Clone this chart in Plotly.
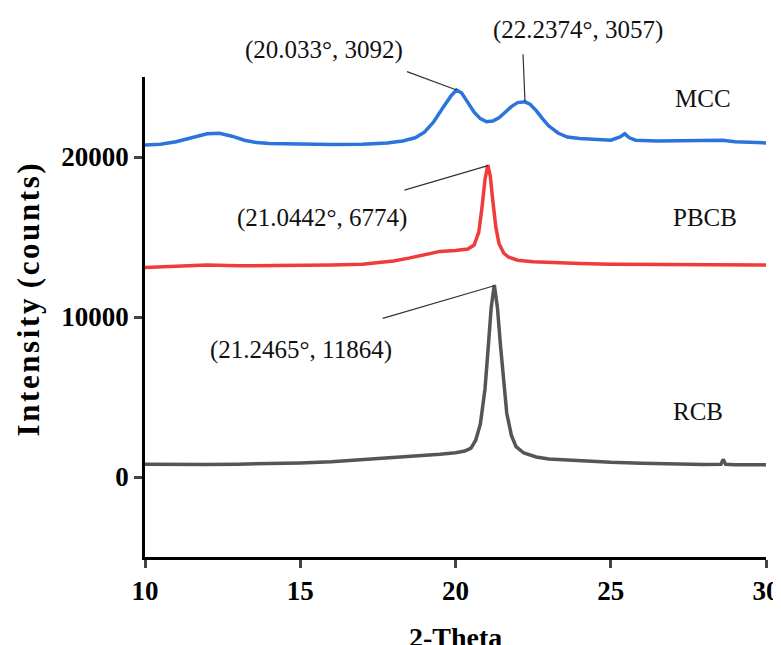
import numpy as np
import plotly.graph_objects as go

# ---- data ----
MCC_x = [10.0, 10.5, 11.0, 11.5, 12.0, 12.4, 12.8, 13.2, 13.6, 14.0, 15.0, 16.0, 17.0, 17.8, 18.3, 18.7,
         19.0, 19.3, 19.6, 19.85, 20.03, 20.2, 20.4, 20.6, 20.8, 21.0, 21.2, 21.4, 21.6, 21.8, 22.0,
         22.24, 22.4, 22.6, 22.8, 23.0, 23.3, 23.6, 24.0, 24.5, 25.0, 25.3, 25.45, 25.6, 25.8, 26.5,
         27.0, 28.0, 28.6, 29.0, 29.5, 30.0]
MCC_y = [20750, 20800, 20950, 21200, 21450, 21480, 21300, 21050, 20900, 20850, 20800, 20780, 20800,
         20880, 21000, 21200, 21550, 22200, 23100, 23800, 24190, 24000, 23400, 22800, 22400, 22200,
         22250, 22450, 22800, 23150, 23400, 23450, 23300, 22900, 22400, 21950, 21500, 21250, 21150,
         21100, 21050, 21250, 21450, 21200, 21050, 21000, 21000, 21000, 21050, 20950, 20900, 20880]

PBCB_x = [10.0, 10.5, 11.0, 11.5, 12.0, 13.0, 14.0, 15.0, 16.0, 17.0, 17.5, 18.0, 18.5, 19.0, 19.5,
          20.0, 20.4, 20.6, 20.75, 20.85, 20.95, 21.04, 21.12, 21.2, 21.3, 21.4, 21.55, 21.7, 22.0,
          22.5, 23.0, 24.0, 25.0, 26.0, 27.0, 28.0, 29.0, 30.0]
PBCB_y = [13100, 13150, 13200, 13220, 13250, 13200, 13200, 13220, 13250, 13300, 13380, 13500, 13680,
          13900, 14100, 14150, 14250, 14500, 15300, 16800, 18600, 19500, 18800, 17300, 15600, 14600,
          14000, 13750, 13550, 13450, 13400, 13350, 13300, 13300, 13280, 13280, 13270, 13250]

RCB_x = [10.0, 11.0, 12.0, 13.0, 14.0, 15.0, 16.0, 17.0, 18.0, 19.0, 19.5, 20.0, 20.3, 20.5, 20.65,
         20.8, 20.95, 21.05, 21.15, 21.25, 21.35, 21.45, 21.55, 21.65, 21.8, 21.95, 22.2, 22.6, 23.0,
         24.0, 25.0, 26.0, 27.0, 28.0, 28.55, 28.62, 28.7, 29.0, 30.0]
RCB_y = [800, 780, 780, 800, 830, 880, 960, 1080, 1200, 1350, 1420, 1520, 1620, 1800, 2300, 3300, 5500,
         8000, 10600, 12000, 10600, 8200, 5800, 4000, 2600, 1900, 1500, 1250, 1130, 1000, 920, 860,
         800, 780, 790, 1100, 790, 770, 760]

SERIES = ["MCC", "PBCB", "RCB"]
COLORS = ["#2a74dc", "#ef3b3b", "#555555"]

PEAK_X = [20.033, 22.2374, 21.0442, 21.2465]
PEAK_SERIES = [0, 0, 1, 2]
PEAK_LABELS = ["(20.033°, 3092)", "(22.2374°, 3057)", "(21.0442°, 6774)", "(21.2465°, 11864)"]

X_TICKS = [10, 15, 20, 25, 30]
Y_TICKS = [0, 10000, 20000]
Y_TICK_TEXT = ["0", "10000", "20000"]

# ---- figure ----
FONT = "Liberation Serif"
data = [(MCC_x, MCC_y), (PBCB_x, PBCB_y), (RCB_x, RCB_y)]
fig = go.Figure()
for (xs, ys), name, col in zip(data, SERIES, COLORS):
    fig.add_trace(go.Scatter(x=xs, y=ys, mode="lines", name=name,
                             line=dict(color=col, width=3.5), showlegend=False))

# leader lines from labels to peaks
line_offsets = [(-51, -19), (-2, -49), (-85, 25), (-113, 33)]
for px, si, (ax, ay) in zip(PEAK_X, PEAK_SERIES, line_offsets):
    xs, ys = data[si]
    py = float(np.interp(px, xs, ys))
    fig.add_annotation(x=px, y=py, xref="x", yref="y", text="", showarrow=True,
                       arrowhead=0, arrowwidth=1.2, arrowcolor="#333333",
                       ax=ax, ay=ay, standoff=0, startstandoff=0)

# peak labels (paper coordinates)
label_pos = [(0.288, 1.056), (0.697, 1.098), (0.285, 0.706), (0.251, 0.431)]
for txt, (lx, ly) in zip(PEAK_LABELS, label_pos):
    fig.add_annotation(x=lx, y=ly, xref="paper", yref="paper", text=txt, showarrow=False,
                       font=dict(family=FONT, size=25, color="#111111"),
                       xanchor="center", yanchor="middle")

series_pos = [(0.899, 0.956), (0.902, 0.708), (0.890, 0.304)]
for txt, (lx, ly) in zip(SERIES, series_pos):
    fig.add_annotation(x=lx, y=ly, xref="paper", yref="paper", text=txt, showarrow=False,
                       font=dict(family=FONT, size=25, color="#111111"),
                       xanchor="center", yanchor="middle")

# axis titles as annotations (letter-spaced y title like the reference)
hs = "\u200a"
ytitle = hs.join("Intensity") + hs + " " + hs.join("(counts)")
fig.add_annotation(x=-0.188, y=0.535, xref="paper", yref="paper", text="<b>" + ytitle + "</b>",
                   textangle=-90, showarrow=False, xanchor="center", yanchor="middle",
                   font=dict(family=FONT, size=31, color="black"))
fig.add_annotation(x=0.5, y=-0.168, xref="paper", yref="paper", text="<b>2-Theta</b>",
                   showarrow=False, xanchor="center", yanchor="middle",
                   font=dict(family=FONT, size=28, color="black"))

fig.update_layout(
    width=773, height=637,
    margin=dict(l=137, r=15, t=69, b=88, autoexpand=False),
    paper_bgcolor="white", plot_bgcolor="white",
    font=dict(family=FONT, color="black"),
)
fig.update_xaxes(range=[10, 30], tickvals=X_TICKS, ticks="outside", ticklen=8, tickwidth=2.5,
                 showline=True, linewidth=2.5, linecolor="black", showgrid=False, zeroline=False,
                 tickfont=dict(family=FONT, size=27, color="black", weight="bold"))
fig.update_yaxes(range=[-5000, 25000], tickvals=Y_TICKS, ticktext=Y_TICK_TEXT, ticks="outside",
                 ticklen=8, tickwidth=2.5,
                 showline=True, linewidth=2.5, linecolor="black", showgrid=False, zeroline=False,
                 tickfont=dict(family=FONT, size=27, color="black", weight="bold"))

fig.write_html("out.html")
